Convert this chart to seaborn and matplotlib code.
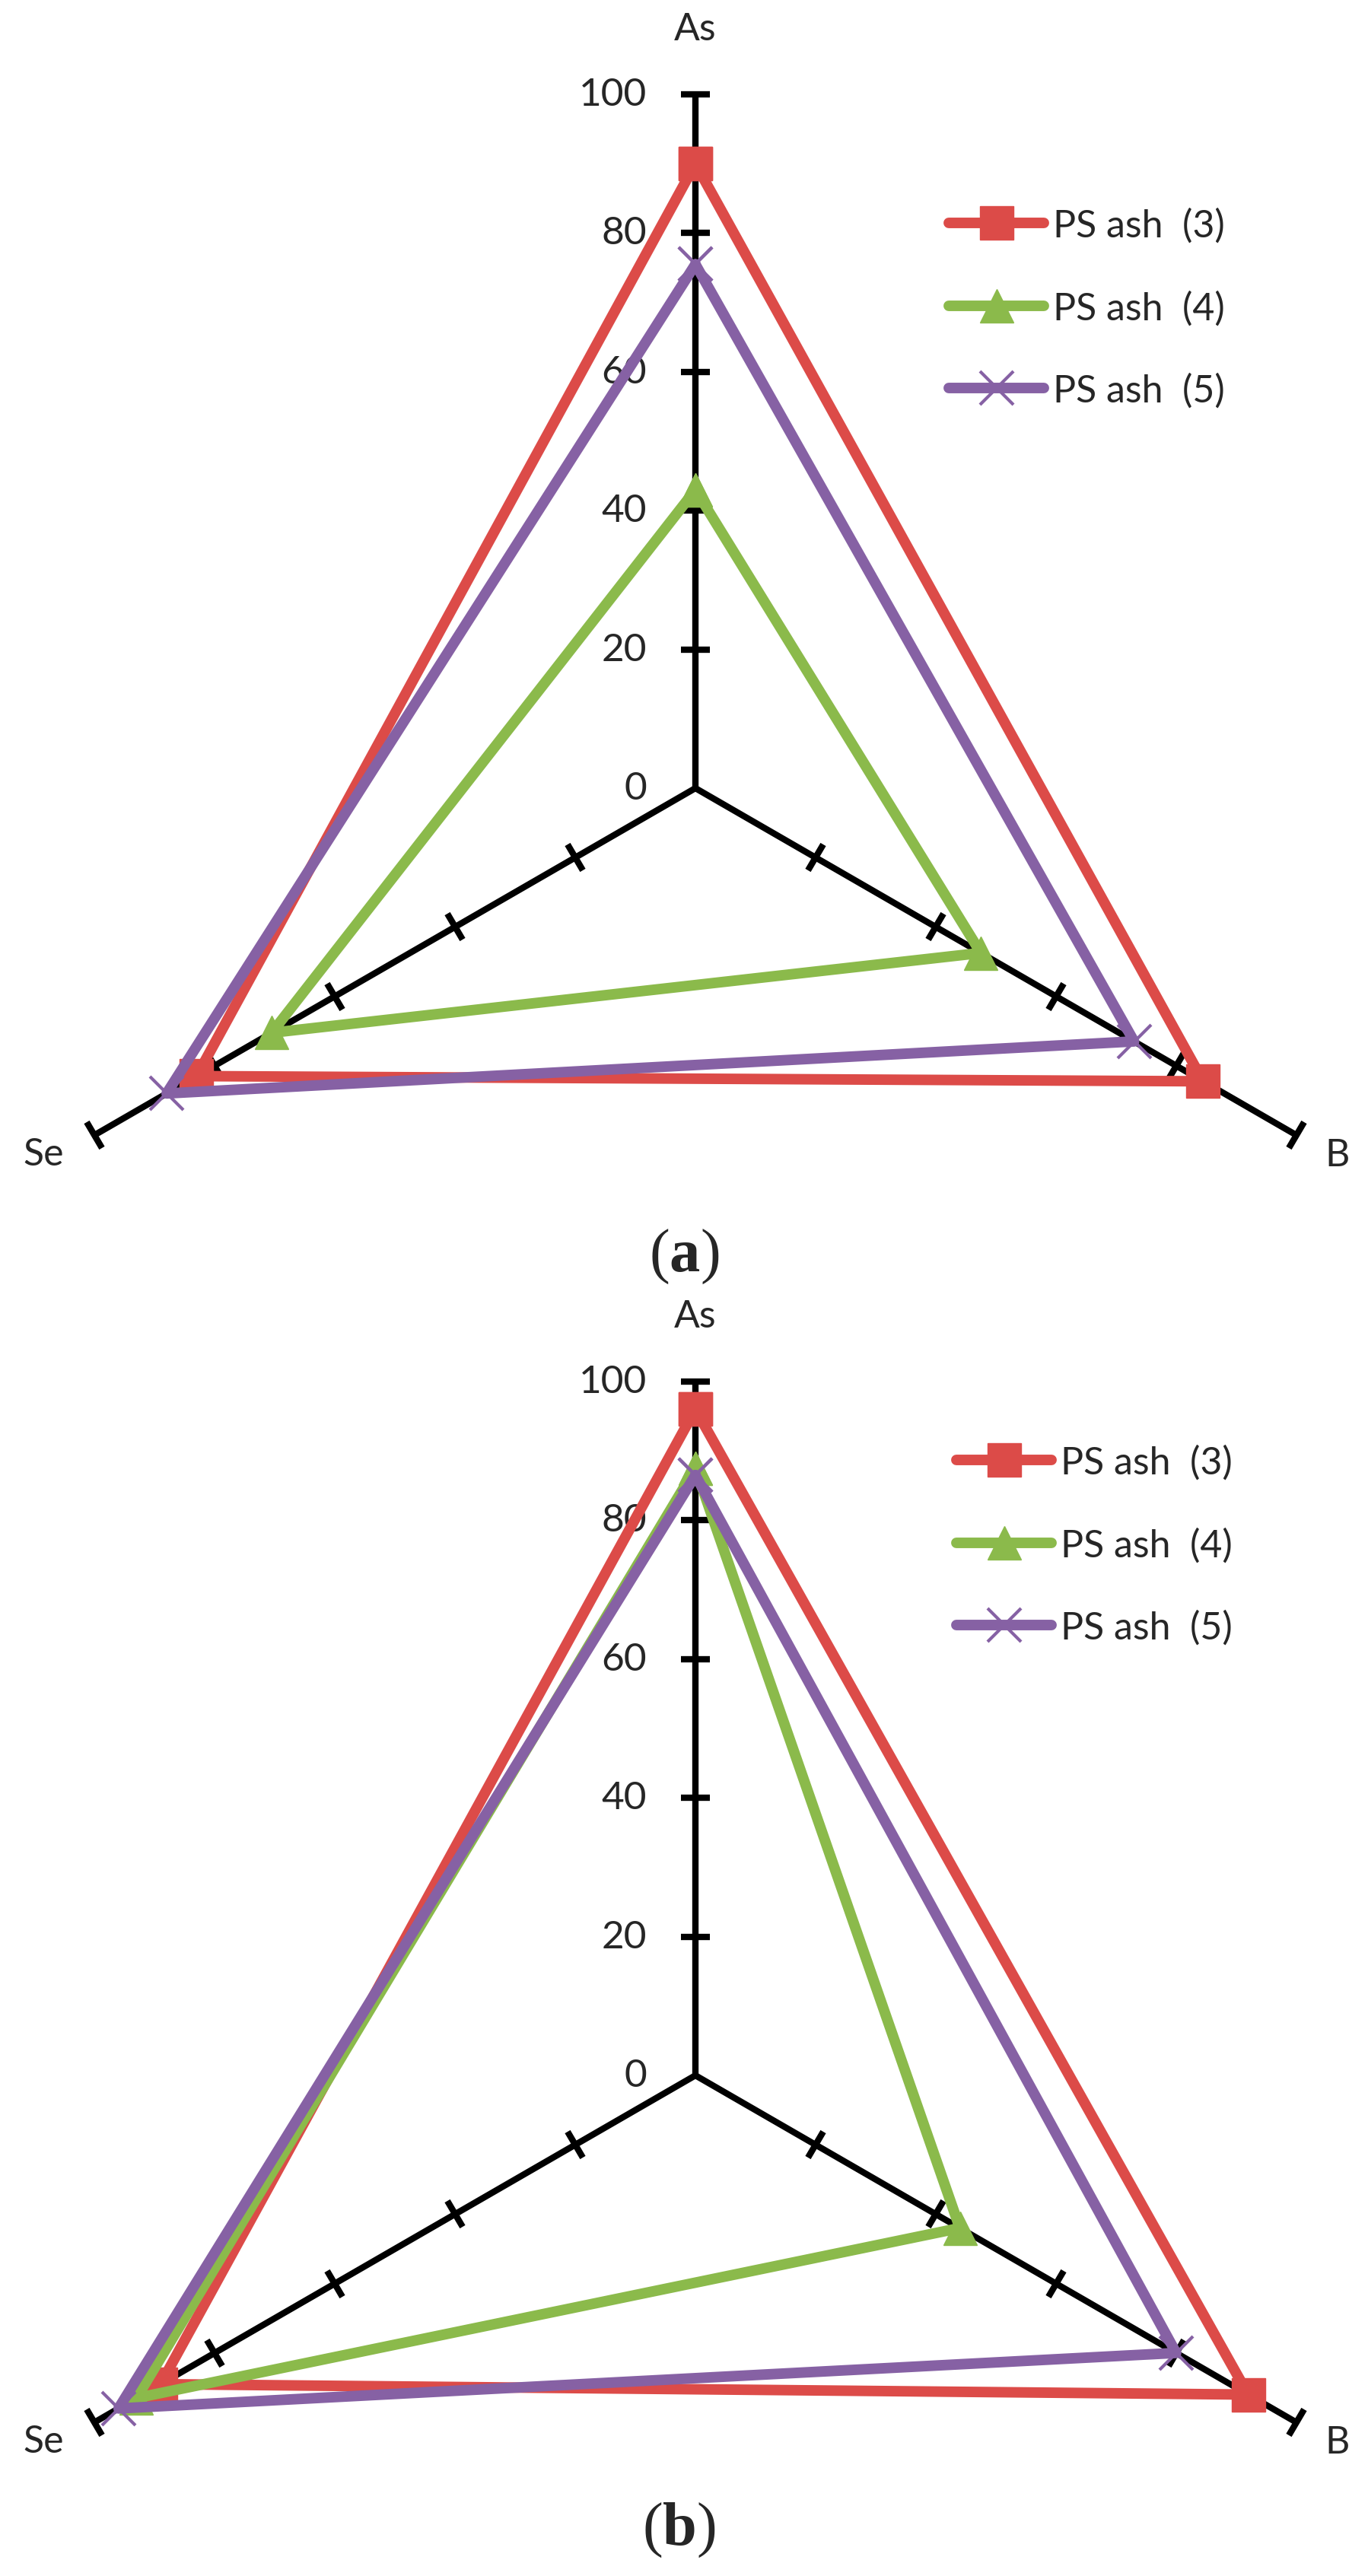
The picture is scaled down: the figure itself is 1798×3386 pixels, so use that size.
import numpy as np
import pandas as pd
import seaborn as sns
import matplotlib.pyplot as plt
from matplotlib.markers import MarkerStyle
from matplotlib.transforms import Affine2D

sns.set_style("white")
plt.rcParams['font.family'] = ['Lato', 'DejaVu Sans']
plt.rcParams['mathtext.fontset'] = 'custom'
plt.rcParams['mathtext.rm'] = 'Liberation Serif'
plt.rcParams['mathtext.bf'] = 'Liberation Serif:bold'

# categories (clockwise from top) and series
elements = ["As", "B", "Se"]
series = ["PS ash  (3)", "PS ash  (4)", "PS ash  (5)"]
ticks = [0, 20, 40, 60, 80, 100]

# panel (a) values, order As, B, Se
a_ps3 = [90, 84.5, 83]
a_ps4 = [43, 47.5, 70.5]
a_ps5 = [75.5, 73, 88]

# panel (b) values
b_ps3 = [96, 92, 89]
b_ps4 = [87.5, 44, 93]
b_ps5 = [86.5, 80, 96]

colors = ["#DC4B48", "#8BBA4B", "#8661A4"]
markers = ["s", "^", "x"]

W, H = 1798, 3387
R = 912  # pixels for the value 100
fig = plt.figure(figsize=(W / 100, H / 100), dpi=100)

theta_deg = np.array([0, 120, 240])
theta = np.deg2rad(theta_deg)
# label offsets (points) from the end of each spoke
label_off = [(0, 62), (39, -19), (-48, -18)]


def panel(cx, cy, data, legend_xy, tag, tag_xy):
    ax = fig.add_axes([(cx - R) / W, (H - cy - R) / H, 2 * R / W, 2 * R / H],
                      projection='polar')
    ax.set_theta_zero_location('N')
    ax.set_theta_direction(-1)
    ax.set_ylim(0, 100)
    ax.grid(False)
    ax.set_xticks([])
    ax.set_yticks([])
    ax.spines['polar'].set_visible(False)
    ax.patch.set_visible(False)

    # spokes with perpendicular tick marks
    for th, deg in zip(theta, theta_deg):
        ax.plot([th, th], [0, 100], color='black', lw=6,
                solid_capstyle='butt', clip_on=False, zorder=1)
        mk = MarkerStyle('_', transform=Affine2D().rotate_deg(180 - deg))
        ax.plot([th] * 5, ticks[1:], ls='none', marker=mk, ms=28, mew=6,
                color='black', clip_on=False, zorder=1)

    for t in ticks:
        ax.annotate(str(t), xy=(0, t), xytext=(-46, 0),
                    textcoords='offset points', ha='right', va='center',
                    fontsize=37)

    for th, lab, off in zip(theta, elements, label_off):
        ax.annotate(lab, xy=(th, 100), xytext=off, textcoords='offset points',
                    ha='center', va='center', fontsize=36)

    closed = np.append(theta, 2 * np.pi)
    for name, vals, c, m in zip(series, data, colors, markers):
        sns.lineplot(x=closed, y=vals + [vals[0]], ax=ax, sort=False,
                     color=c, lw=10, marker=m, ms=32,
                     mew=3 if m == 'x' else 1, mec=c, mfc=c,
                     solid_joinstyle='round', label=name,
                     clip_on=False, zorder=3)

    ax.legend(loc='upper left', bbox_to_anchor=(legend_xy[0] / W, 1 - legend_xy[1] / H),
              bbox_transform=fig.transFigure, frameon=False, fontsize=36,
              handlelength=2.5, handletextpad=0.25, labelspacing=1.24,
              borderpad=0, borderaxespad=0, numpoints=1)

    fig.text(tag_xy[0] / W, 1 - tag_xy[1] / H, r'($\mathbf{%s}$)' % tag,
             ha='center', va='center', fontsize=58, family='Liberation Serif')


panel(914, 1037, [a_ps3, a_ps4, a_ps5], (1247, 274), 'a', (899, 1652))
panel(914, 2729, [b_ps3, b_ps4, b_ps5], (1257, 1900), 'b', (892, 3326))

fig.savefig('out.png', dpi=100)
